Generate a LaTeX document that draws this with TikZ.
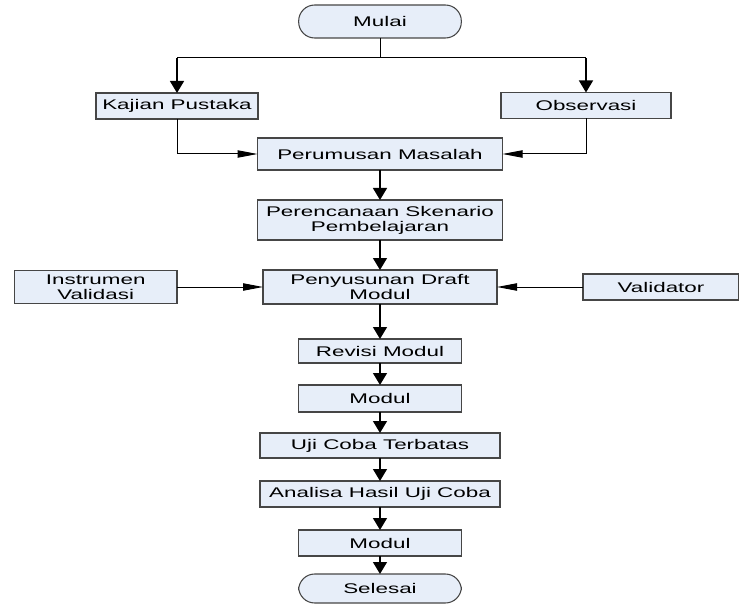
\documentclass[tikz,border=0pt]{standalone}
\usepackage{fontspec}
\setmainfont{Liberation Sans}[FakeStretch=1.6]
\usetikzlibrary{positioning,arrows.meta}
\definecolor{boxfill}{RGB}{231,238,249}
\definecolor{boxline}{RGB}{70,70,70}
\tikzset{
  pr/.style={rectangle, minimum width=122pt, minimum height=19.5pt, inner sep=1pt, outer sep=0pt, text centered, align=center, draw=boxline, fill=boxfill, line width=0.8pt, font=\fontsize{10.5}{11.2}\selectfont},
  tm/.style={pr, rounded corners=12pt, minimum height=24.75pt},
  vflow/.style={line width=1.1pt, -{Triangle[length=9pt,width=10.5pt]}},
  hflow/.style={line width=0.75pt, -{Triangle[length=15pt,width=5.5pt]}}
}

\begin{document}
\begin{tikzpicture}[x=0.75pt, y=-0.75pt]
	\useasboundingbox (0,0) rectangle (739,606);
	% main column
	\node[tm] (mulai) at (380,21.5) {Mulai};
	\node[pr, minimum width=183.75pt, minimum height=24pt, below=75pt of mulai] (rumus) {Perumusan Masalah};
	\node[pr, minimum width=183.75pt, minimum height=30pt, below=22.5pt of rumus] (rencana) {Perencanaan Skenario\\Pembelajaran};
	\node[pr, minimum width=175.5pt, minimum height=25.5pt, below=22.5pt of rencana] (susun) {Penyusunan Draft\\Modul};
	\node[pr, minimum height=18pt, below=26.25pt of susun] (revisi) {Revisi Modul};
	\node[pr, minimum height=20.25pt, below=16.5pt of revisi] (modul) {Modul};
	\node[pr, minimum width=180pt, minimum height=18.75pt, below=15.75pt of modul] (uji) {Uji Coba Terbatas};
	\node[pr, minimum width=180pt, below=17.25pt of uji] (analisa) {Analisa Hasil Uji Coba};
	\node[pr, below=17.25pt of analisa] (modulb) {Modul};
	\node[tm, minimum height=21.75pt, below=13.5pt of modulb] (selesai) {Selesai};
	% side inputs
	\node[pr, minimum width=121.5pt] (kajian) at (177,106) {Kajian Pustaka};
	\node[pr, minimum width=127.5pt] (observasi) at (586,105.5) {Observasi};
	\node[pr, minimum height=24.75pt, left=64.5pt of susun] (instrumen) {Instrumen\\Validasi};
	\node[pr, minimum width=117pt, right=64.5pt of susun] (validator) {Validator};
	%
	\coordinate (cabang) at (380,58);
	\draw[line width=0.75pt] (mulai) -- (cabang);
	\draw[line width=0.75pt] (kajian |- cabang) -- (observasi |- cabang);
	\draw[vflow] (kajian |- cabang) -- (kajian);
	\draw[vflow] (observasi |- cabang) -- (observasi);
	\draw[hflow] (kajian) |- (rumus);
	\draw[hflow] (observasi) |- (rumus);
	\draw[vflow] (rumus) -- (rencana);
	\draw[vflow] (rencana) -- (susun);
	\draw[hflow] (instrumen) -- (susun);
	\draw[hflow] (validator) -- (susun);
	\draw[vflow] (susun) -- (revisi);
	\draw[vflow] (revisi) -- (modul);
	\draw[vflow] (modul) -- (uji);
	\draw[vflow] (uji) -- (analisa);
	\draw[vflow] (analisa) -- (modulb);
	\draw[vflow] (modulb) -- (selesai);
\end{tikzpicture}
\end{document}
